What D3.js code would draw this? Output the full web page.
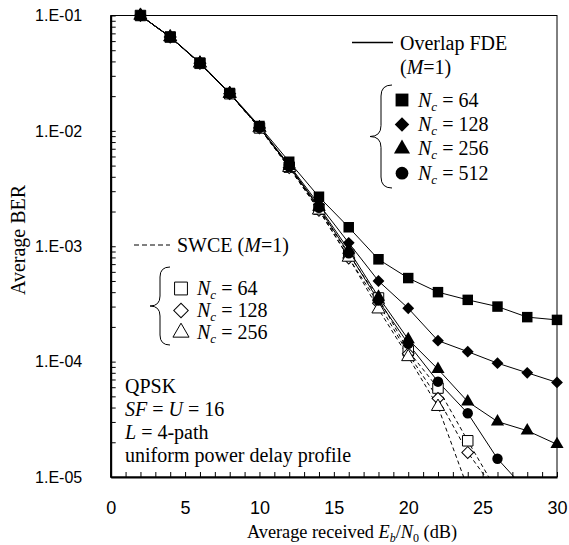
<!DOCTYPE html>
<html>
<head>
<meta charset="utf-8">
<script src="https://cdn.jsdelivr.net/npm/d3@7"></script>
<style>
  body { margin: 0; background: #fff; }
  svg { font-family: "Liberation Serif", "Times New Roman", serif; }
  .axis path, .axis line { stroke: #000; }
  .axis text { fill: #000; }
</style>
</head>
<body>
<div id="chart"></div>
<script>
// Eb/N0 (dB)
const snr = [2, 4, 6, 8, 10, 12, 14, 16, 18, 20, 22, 24, 26, 28, 30];

// Overlap FDE (M=1), filled markers
const fde64  = [1.0e-1, 6.55e-2, 3.9e-2, 2.13e-2, 1.10e-2, 5.4e-3, 2.68e-3, 1.46e-3, 7.7e-4, 5.3e-4, 4.0e-4, 3.43e-4, 3.0e-4, 2.43e-4, 2.3e-4];
const fde128 = [1.0e-1, 6.5e-2, 3.87e-2, 2.1e-2, 1.08e-2, 5.05e-3, 2.3e-3, 1.07e-3, 5.0e-4, 2.9e-4, 1.52e-4, 1.22e-4, 9.7e-5, 8.0e-5, 6.6e-5];
const fde256 = [1.0e-1, 6.5e-2, 3.87e-2, 2.1e-2, 1.07e-2, 4.95e-3, 2.2e-3, 9.3e-4, 3.64e-4, 1.56e-4, 8.6e-5, 4.5e-5, 3.02e-5, 2.52e-5, 1.92e-5];
const fde512 = [1.0e-1, 6.5e-2, 3.87e-2, 2.1e-2, 1.07e-2, 4.9e-3, 2.15e-3, 8.7e-4, 3.38e-4, 1.43e-4, 6.7e-5, 3.57e-5, 1.44e-5, 7.5e-6];

// SWCE (M=1), open markers
const swce64  = [1.0e-1, 6.5e-2, 3.85e-2, 2.1e-2, 1.06e-2, 4.85e-3, 2.1e-3, 8.5e-4, 3.56e-4, 1.24e-4, 5.9e-5, 2.06e-5, 7.4e-6];
const swce128 = [1.0e-1, 6.5e-2, 3.85e-2, 2.1e-2, 1.06e-2, 4.8e-3, 2.05e-3, 7.9e-4, 3.2e-4, 1.17e-4, 4.8e-5, 1.63e-5, 7.2e-6];
const swce256 = [1.0e-1, 6.5e-2, 3.85e-2, 2.1e-2, 1.06e-2, 4.8e-3, 2.05e-3, 8.0e-4, 2.85e-4, 1.10e-4, 4.07e-5, 8.0e-6];

const yTickValues = [1e-1, 1e-2, 1e-3, 1e-4, 1e-5];
const yTickLabels = ["1.E-01", "1.E-02", "1.E-03", "1.E-04", "1.E-05"];
const xTickValues = [0, 5, 10, 15, 20, 25, 30];

const fdeSeries = [
  {nc: 64,  ber: fde64,  shape: "square"},
  {nc: 128, ber: fde128, shape: "diamond"},
  {nc: 256, ber: fde256, shape: "triangle"},
  {nc: 512, ber: fde512, shape: "circle"}
];
const swceSeries = [
  {nc: 64,  ber: swce64,  shape: "square"},
  {nc: 128, ber: swce128, shape: "diamond"},
  {nc: 256, ber: swce256, shape: "triangle"}
];
const infoLines = ["QPSK", "SF = U = 16", "L = 4-path", "uniform power delay profile"];

const width = 569, height = 545;
const margin = {top: 15.5, right: 12, bottom: 68, left: 110.7};
const plotW = width - margin.left - margin.right;
const plotH = height - margin.top - margin.bottom;

const svg = d3.select("#chart").append("svg")
  .attr("width", width)
  .attr("height", height);

const chart = svg.append("g")
  .attr("transform", `translate(${margin.left},${margin.top})`);

const x = d3.scaleLinear().domain([0, 30]).range([0, plotW]);
const y = d3.scaleLog().domain([1e-5, 1e-1]).range([plotH, 0]);

// frame (top / right thin)
chart.append("rect")
  .attr("width", plotW).attr("height", plotH)
  .attr("fill", "none").attr("stroke", "#000").attr("stroke-width", 1);

// y minor + major ticks (inside)
const yAllTicks = [];
for (let e = -5; e < -1; e++) for (let m = 1; m < 10; m++) yAllTicks.push(m * Math.pow(10, e));
yAllTicks.push(1e-1);

chart.append("g").attr("class", "axis")
  .call(d3.axisRight(y).tickValues(yAllTicks).tickSize(5).tickFormat(""))
  .call(g => g.select(".domain").remove());

chart.append("g").attr("class", "axis")
  .call(d3.axisLeft(y).tickValues(yTickValues).tickSize(0).tickPadding(28.5)
    .tickFormat((d, i) => yTickLabels[i]))
  .call(g => g.select(".domain").attr("stroke-width", 2))
  .call(g => g.selectAll("text").style("font-size", "16px"));

// x ticks (inside, every 1 dB)
chart.append("g").attr("class", "axis")
  .attr("transform", `translate(0,${plotH})`)
  .call(d3.axisTop(x).tickValues(d3.range(0, 31, 1)).tickSize(5).tickFormat(""))
  .call(g => g.select(".domain").remove());

chart.append("g").attr("class", "axis")
  .attr("transform", `translate(0,${plotH})`)
  .call(d3.axisBottom(x).tickValues(xTickValues).tickSize(0).tickPadding(24).tickFormat(d3.format("d")))
  .call(g => g.select(".domain").attr("stroke-width", 2))
  .call(g => g.selectAll("text").style("font-size", "18px"));

// axis titles
const xt = svg.append("text")
  .attr("x", 352)
  .attr("y", 538)
  .attr("text-anchor", "middle")
  .style("font-size", "18.3px");
xt.append("tspan").text("Average received ");
xt.append("tspan").style("font-style", "italic").text("E");
xt.append("tspan").style("font-style", "italic").style("font-size", "12px").attr("dy", 4).text("b");
xt.append("tspan").attr("dy", -4).text("/");
xt.append("tspan").style("font-style", "italic").text("N");
xt.append("tspan").style("font-size", "12px").attr("dy", 4).text("0");
xt.append("tspan").attr("dy", -4).text(" (dB)");

svg.append("text")
  .attr("transform", "translate(25,240) rotate(-90)")
  .attr("text-anchor", "middle")
  .style("font-size", "20px")
  .text("Average BER");

// markers (diamond = square turned 45 degrees)
const symbolSize = {square: 110, diamond: 70, triangle: 75, circle: 85};
const symbolType = {
  square: d3.symbolSquare, diamond: d3.symbolSquare,
  triangle: d3.symbolTriangle, circle: d3.symbolCircle
};
function symbolPath(shape, scale) {
  return d3.symbol().type(symbolType[shape]).size(symbolSize[shape] * (scale || 1))();
}
function place(px, py, shape) {
  return `translate(${px},${py})` + (shape === "diamond" ? " rotate(45)" : "");
}

// clip only below 1.E-05 so edge markers stay whole
const plotArea = chart.append("g");
svg.append("clipPath").attr("id", "clip")
  .append("rect").attr("x", -15).attr("y", -15).attr("width", plotW + 30).attr("height", plotH + 15);
plotArea.attr("clip-path", "url(#clip)");

const line = d3.line()
  .x((d, i) => x(snr[i]))
  .y(d => y(d));

swceSeries.forEach(s => {
  plotArea.append("path")
    .attr("d", line(s.ber))
    .attr("fill", "none")
    .attr("stroke", "#000")
    .attr("stroke-width", 1)
    .attr("stroke-dasharray", "4,3");
});
fdeSeries.forEach(s => {
  plotArea.append("path")
    .attr("d", line(s.ber))
    .attr("fill", "none")
    .attr("stroke", "#000")
    .attr("stroke-width", 1);
});

swceSeries.forEach(s => {
  plotArea.selectAll(null)
    .data(s.ber)
    .enter().append("path")
    .attr("transform", (d, i) => place(x(snr[i]), y(d), s.shape))
    .attr("d", symbolPath(s.shape))
    .attr("fill", "#fff")
    .attr("stroke", "#000")
    .attr("stroke-width", 1);
});
fdeSeries.forEach(s => {
  plotArea.selectAll(null)
    .data(s.ber)
    .enter().append("path")
    .attr("transform", (d, i) => place(x(snr[i]), y(d), s.shape))
    .attr("d", symbolPath(s.shape))
    .attr("fill", "#000");
});

// curly brace
function brace(xr, y0, y1, w) {
  const xm = xr - w / 2, xtip = xr - w, ym = (y0 + y1) / 2, r = w / 2;
  return `M${xr},${y0} Q${xm},${y0} ${xm},${y0 + r} L${xm},${ym - r} Q${xm},${ym} ${xtip},${ym}` +
    ` Q${xm},${ym} ${xm},${ym + r} L${xm},${y1 - r} Q${xm},${y1} ${xr},${y1}`;
}

function ncLabel(sel, nc) {
  sel.append("tspan").style("font-style", "italic").text("N");
  sel.append("tspan").style("font-style", "italic").style("font-size", "13px").attr("dy", 4).text("c");
  sel.append("tspan").attr("dy", -4).text(" = " + nc);
}

// legend: Overlap FDE
const lg1 = svg.append("g").style("font-size", "20px");
lg1.append("line").attr("x1", 352).attr("x2", 393).attr("y1", 42.5).attr("y2", 42.5)
  .attr("stroke", "#000").attr("stroke-width", 1.5);
lg1.append("text").attr("x", 400).attr("y", 49.5).text("Overlap FDE");
const m1 = lg1.append("text").attr("x", 400).attr("y", 74);
m1.append("tspan").text("(");
m1.append("tspan").style("font-style", "italic").text("M");
m1.append("tspan").text("=1)");
lg1.append("path").attr("d", brace(392, 85, 188, 22)).attr("fill", "none").attr("stroke", "#000");
fdeSeries.forEach((s, i) => {
  const cy = 100 + i * 24.4;
  lg1.append("path").attr("transform", place(402, cy, s.shape))
    .attr("d", symbolPath(s.shape, 1.5)).attr("fill", "#000");
  ncLabel(lg1.append("text").attr("x", 418).attr("y", cy + 6.5), s.nc);
});

// legend: SWCE
const lg2 = svg.append("g").style("font-size", "20px");
lg2.append("line").attr("x1", 134).attr("x2", 170).attr("y1", 245).attr("y2", 245)
  .attr("stroke", "#000").attr("stroke-width", 1).attr("stroke-dasharray", "5,3");
const sw = lg2.append("text").attr("x", 177).attr("y", 252);
sw.append("tspan").text("SWCE (");
sw.append("tspan").style("font-style", "italic").text("M");
sw.append("tspan").text("=1)");
lg2.append("path").attr("d", brace(170, 267, 345, 20)).attr("fill", "none").attr("stroke", "#000");
swceSeries.forEach((s, i) => {
  const cy = 288.5 + i * 22;
  lg2.append("path").attr("transform", place(181, cy, s.shape))
    .attr("d", symbolPath(s.shape, 1.5)).attr("fill", "#fff").attr("stroke", "#000");
  ncLabel(lg2.append("text").attr("x", 197).attr("y", cy + 6.5), s.nc);
});

// conditions text
const info = svg.append("g").style("font-size", "20px");
info.append("text").attr("x", 125).attr("y", 393).text(infoLines[0]);
const t1 = info.append("text").attr("x", 125).attr("y", 416);
t1.append("tspan").style("font-style", "italic").text("SF");
t1.append("tspan").text(" = ");
t1.append("tspan").style("font-style", "italic").text("U");
t1.append("tspan").text(" = 16");
const t2 = info.append("text").attr("x", 125).attr("y", 439);
t2.append("tspan").style("font-style", "italic").text("L");
t2.append("tspan").text(" = 4-path");
info.append("text").attr("x", 125).attr("y", 462).text(infoLines[3]);
</script>
</body>
</html>
